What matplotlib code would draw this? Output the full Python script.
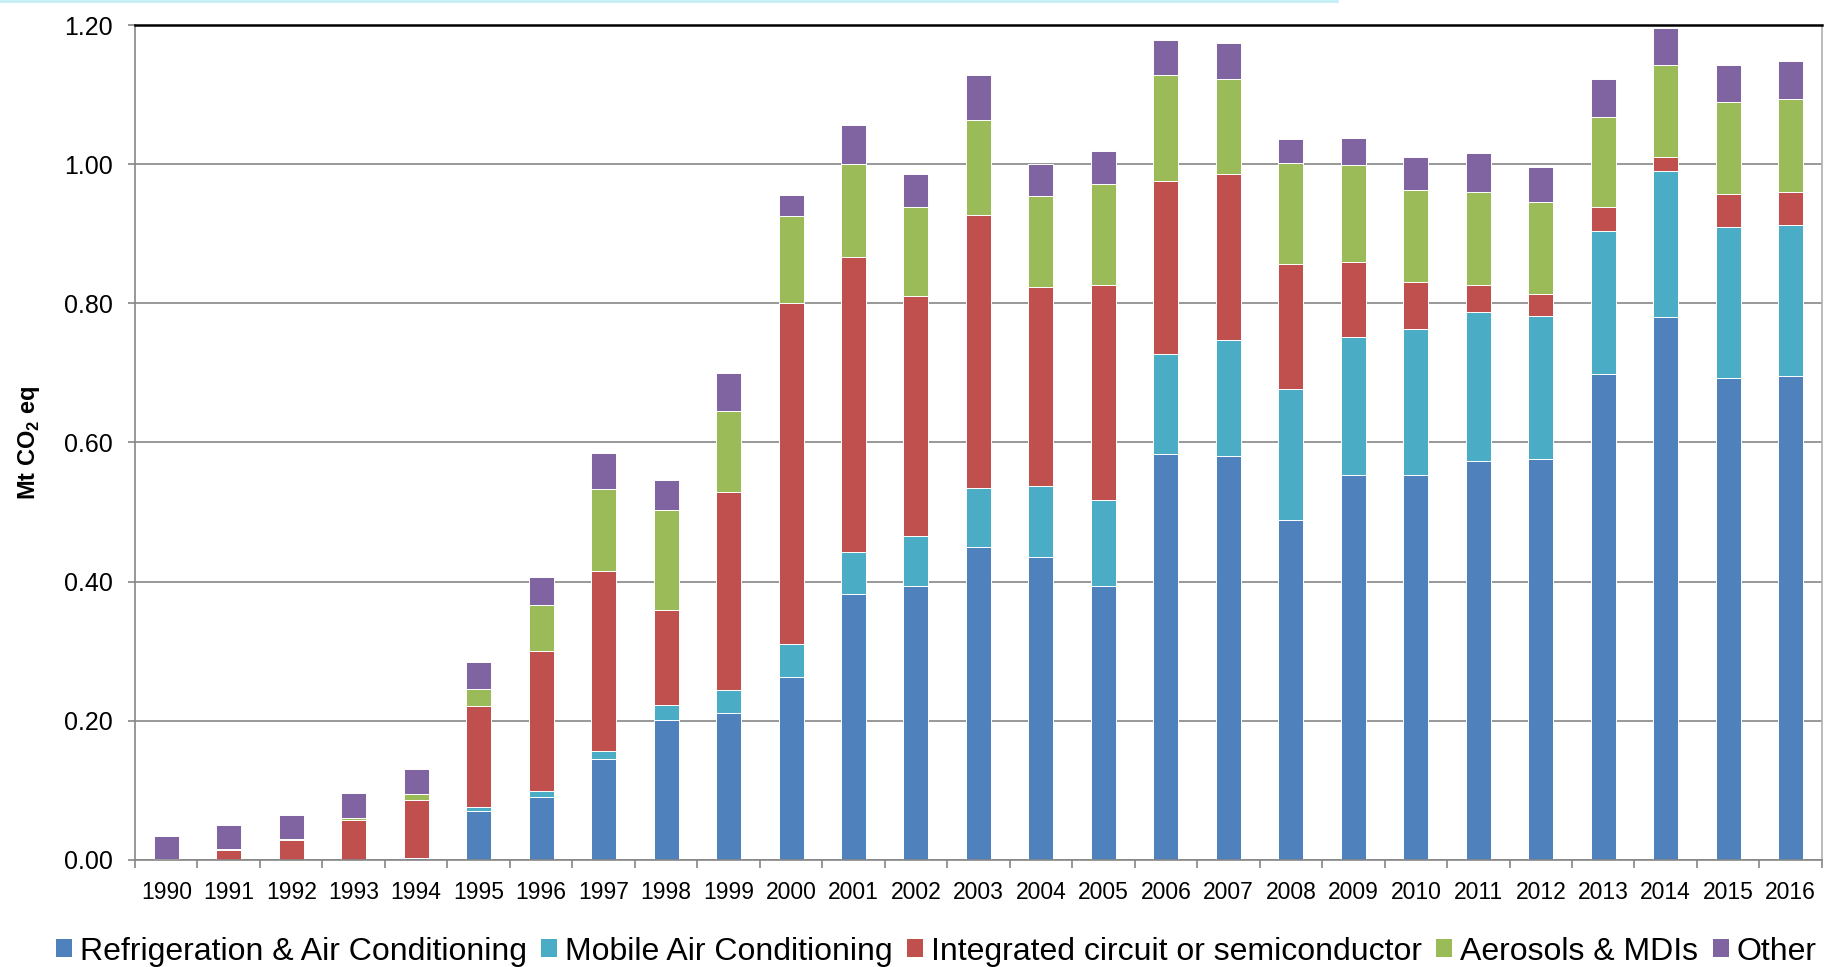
import matplotlib
matplotlib.use("Agg")
import matplotlib.pyplot as plt
import numpy as np
from matplotlib.patches import Patch
from matplotlib.lines import Line2D

plt.rcParams['font.family'] = ['Liberation Sans', 'DejaVu Sans']
plt.rcParams['mathtext.fontset'] = 'custom'
plt.rcParams['mathtext.rm'] = 'Liberation Sans'
plt.rcParams['mathtext.bf'] = 'Liberation Sans:bold'

# Emissions by sub-sector, Mt CO2 eq
years = [str(y) for y in range(1990, 2017)]
refrigeration = [0.000, 0.000, 0.000, 0.000, 0.0024, 0.0703, 0.0909, 0.1455, 0.201, 0.211,
                 0.263, 0.382, 0.394, 0.450, 0.436, 0.394, 0.584, 0.580, 0.489, 0.553,
                 0.554, 0.573, 0.576, 0.698, 0.780, 0.693, 0.695]
mobile_ac = [0.000, 0.000, 0.000, 0.000, 0.000, 0.0053, 0.0077, 0.0115, 0.022, 0.033,
             0.047, 0.060, 0.071, 0.084, 0.101, 0.123, 0.143, 0.167, 0.188, 0.199,
             0.209, 0.214, 0.206, 0.206, 0.210, 0.217, 0.218]
semiconductor = [0.000, 0.0144, 0.0287, 0.0574, 0.0837, 0.1454, 0.2014, 0.258, 0.136, 0.285,
                 0.491, 0.425, 0.345, 0.393, 0.286, 0.309, 0.249, 0.239, 0.179, 0.108,
                 0.067, 0.040, 0.031, 0.034, 0.021, 0.047, 0.047]
aerosols = [0.001, 0.0014, 0.0013, 0.0026, 0.0082, 0.025, 0.067, 0.118, 0.144, 0.116,
            0.125, 0.134, 0.128, 0.137, 0.131, 0.145, 0.152, 0.136, 0.146, 0.139,
            0.133, 0.133, 0.132, 0.130, 0.131, 0.132, 0.134]
other = [0.034, 0.0342, 0.0346, 0.0357, 0.0367, 0.038, 0.039, 0.052, 0.043, 0.055,
         0.030, 0.055, 0.048, 0.064, 0.046, 0.048, 0.050, 0.052, 0.034, 0.038,
         0.048, 0.056, 0.051, 0.054, 0.054, 0.054, 0.055]

series = [
    ('Refrigeration & Air Conditioning', refrigeration, '#4F81BD'),
    ('Mobile Air Conditioning', mobile_ac, '#4BACC6'),
    ('Integrated circuit or semiconductor', semiconductor, '#C0504D'),
    ('Aerosols & MDIs', aerosols, '#9BBB59'),
    ('Other', other, '#8064A2'),
]

fig = plt.figure(figsize=(18.32, 9.67), dpi=100)
ax = fig.add_axes([0.0737, 0.1107, 0.9208, 0.8634])

x = np.arange(len(years))
bottom = np.zeros(len(years))
for name, vals, color in series:
    vals = np.array(vals)
    ax.bar(x, vals, width=0.4, bottom=bottom, color=color,
           edgecolor='white', linewidth=0.7, label=name, zorder=2)
    bottom += vals

grid_col = '#868686'
ax.set_xlim(-0.5, len(years) - 0.5)
ax.set_ylim(0, 1.2)
ax.set_yticks(np.arange(0, 1.21, 0.2))
ax.set_yticklabels(['%.2f' % v for v in np.arange(0, 1.21, 0.2)])
ax.yaxis.grid(True, color=grid_col, linewidth=1.2, zorder=0)
ax.set_axisbelow(True)

# year labels centred on bars, tick marks between categories
ax.set_xticks(x)
ax.set_xticklabels(years)
ax.set_xticks(np.arange(-0.5, len(years), 1.0), minor=True)
ax.tick_params(axis='x', which='major', length=0, labelsize=16.5, pad=15)
ax.tick_params(axis='x', which='minor', length=5.5, width=1.2, color=grid_col, direction='out')
ax.tick_params(axis='y', length=5.3, width=1.2, color=grid_col, labelsize=18, pad=11)

for side in ['left', 'bottom', 'right']:
    ax.spines[side].set_color(grid_col)
    ax.spines[side].set_linewidth(1.2)
ax.spines['right'].set_color('#b0b0b0')
ax.spines['top'].set_color('black')
ax.spines['top'].set_linewidth(1.8)

ax.set_ylabel(r'Mt CO$_\mathbf{2}$ eq', fontsize=17, fontweight='bold')
ax.yaxis.set_label_coords(-0.055, 0.5)

handles = [Patch(facecolor=c, edgecolor='none') for _, _, c in series]
labels = [n for n, _, _ in series]
fig.legend(handles, labels, loc='center', bbox_to_anchor=(0.511, 0.016),
           ncol=5, frameon=False, fontsize=23, handlelength=0.5, handleheight=0.5,
           handletextpad=0.25, columnspacing=0.45, borderpad=0)

# thin cyan rule along the top edge
fig.add_artist(Line2D([0, 0.73], [0.999, 0.999], transform=fig.transFigure,
                      color='#c4eef5', linewidth=2))

fig.savefig('out.png', dpi=100)
